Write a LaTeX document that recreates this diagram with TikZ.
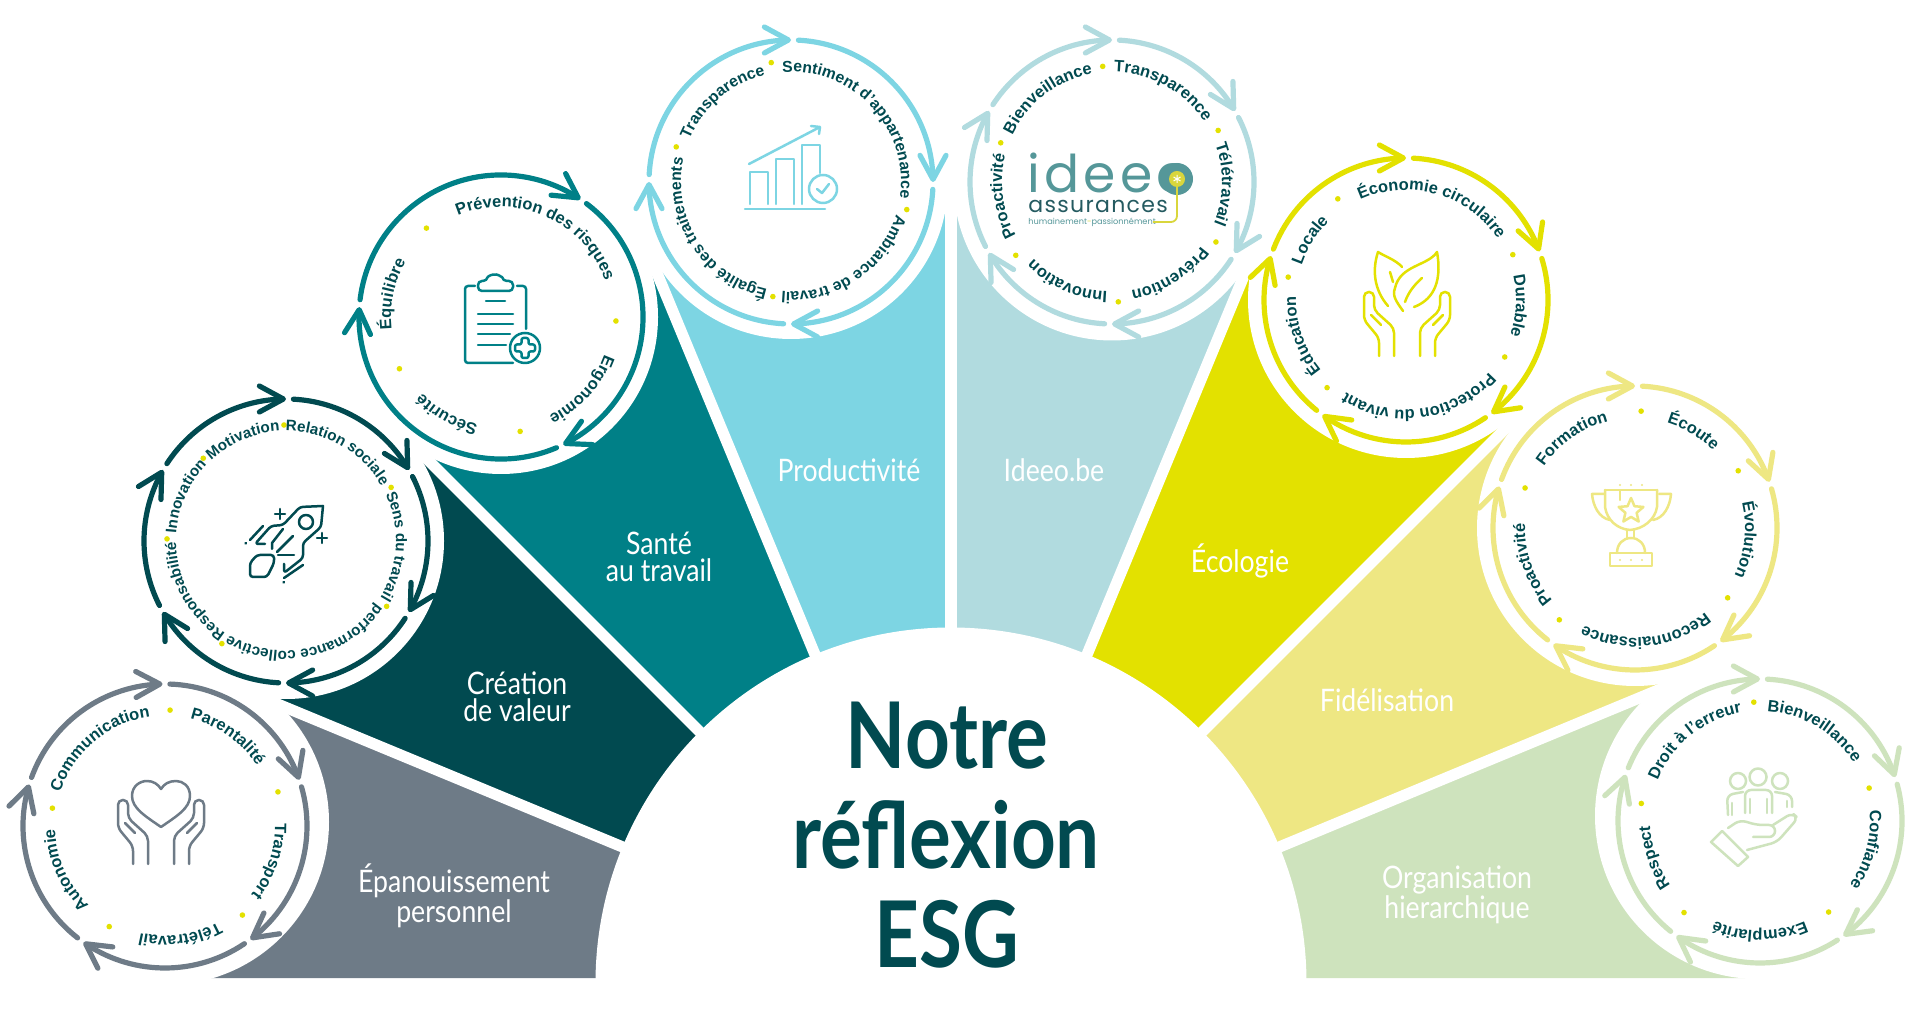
\documentclass[tikz,border=0pt]{standalone}
\usepackage{fontspec}
\setmainfont{Liberation Sans}
\newfontfamily\ringfamily{Liberation Sans}
\newfontfamily\wedgefamily[FakeStretch=.86]{Lato}
\newfontfamily\titlefamily[FakeStretch=.85]{Lato}
\newfontfamily\logofamily{Poppins}
\usetikzlibrary{arrows.meta,bending,decorations.text,shapes.geometric}
\definecolor{inkdark}{HTML}{014A50}
\definecolor{slategrey}{HTML}{6E7B87}
\definecolor{deepteal}{HTML}{014A50}
\definecolor{teal}{HTML}{008087}
\definecolor{skyblue}{HTML}{7DD5E3}
\definecolor{paleblue}{HTML}{B1DBDF}
\definecolor{lemon}{HTML}{E3E100}
\definecolor{paleyellow}{HTML}{EEE783}
\definecolor{palegreen}{HTML}{CEE3BD}
\definecolor{logoteal}{HTML}{559799}
\definecolor{logodark}{HTML}{245A60}
\definecolor{logoyellow}{HTML}{D9D63C}
\tikzset{
  ringarc/.style={
    draw=#1,
    line width=2.6pt,
    line cap=round,
    -{Straight Barb[length=12pt,width=13pt,line width=2.6pt,round,flex=1]}},
  gapline/.style={draw=white,line width=5.6pt},
  iconline/.style={draw=#1,line width=1.25pt,line cap=round,line join=round},
  wedgelabel/.style={text=white,align=center,font=\wedgefamily\fontsize{15.5}{13.6}\selectfont},
  titleline/.style={text=inkdark,anchor=base,font=\titlefamily\bfseries\fontsize{46}{50}\selectfont},
  }
\newcommand{\ringtext}[4][8.2]{\path[decorate,decoration={text along path,text align=center,text={|\ringfamily\bfseries\fontsize{#1}{9}\selectfont\color{inkdark}|#4}}] (#2) ++(#3+85:110) arc[start angle=#3+85,end angle=#3-85,radius=110];}
\newcommand{\ringarrows}[3]{\foreach \tailang/\headang in {#3} {\draw[ringarc=#2] (#1) ++(\tailang:142) arc[start angle=\tailang,end angle=\headang,radius=142];}}
\newcommand{\ringdots}[2]{\foreach \dotang/\dotrad in {#2} {\fill[lemon] (#1) ++(\dotang:\dotrad) circle[radius=2.8];}}
\newcommand{\handside}{
  \draw[rounded corners=2.4pt] (-28,-56) -- (-28,-38) -- (-43,-20) -- (-43,8) -- (-33,8) -- (-33,-10) -- (-13,-28) -- (-13,-56);
  \draw (-36,-15) -- (-26,-25);}
\begin{document}
\begin{tikzpicture}[x=.5pt,y=.5pt]
  \useasboundingbox (0,0) rectangle (1920,1011);
  \coordinate (hub) at (951,28);
  \coordinate (ringA) at (165,185);
  \coordinate (ringB) at (286,470);
  \coordinate (ringC) at (501,694);
  \coordinate (ringD) at (791,829);
  \coordinate (ringE) at (1112,829);
  \coordinate (ringF) at (1406,711);
  \coordinate (ringG) at (1635,483);
  \coordinate (ringH) at (1760,190);

  % Wedges
  \fill[slategrey] (hub) -- (700,33) -- (185,33) -- ([shift={(157.5:745)}]hub) -- cycle;
  \fill[deepteal] (hub) -- ([shift={(157.5:745)}]hub) -- ([shift={(135:750)}]hub) -- cycle;
  \fill[teal] (hub) -- ([shift={(135:750)}]hub) -- ([shift={(112.5:775)}]hub) -- cycle;
  \fill[skyblue] (hub) -- ([shift={(112.5:775)}]hub) -- ([shift={(90:785)}]hub) -- cycle;
  \fill[paleblue] (hub) -- ([shift={(90:785)}]hub) -- ([shift={(67.5:775)}]hub) -- cycle;
  \fill[lemon] (hub) -- ([shift={(67.5:775)}]hub) -- ([shift={(45:785)}]hub) -- cycle;
  \fill[paleyellow] (hub) -- ([shift={(45:785)}]hub) -- ([shift={(22.5:785)}]hub) -- cycle;
  \fill[palegreen] (hub) -- ([shift={(22.5:785)}]hub) -- (1745,33) -- (1200,33) -- cycle;

  % Gaps
  \foreach \gapang in {22.5,45,67.5,90,112.5,135,157.5} {\draw[gapline] (hub) -- ++(\gapang:810);}
  \fill[white] (hub) circle[radius=355.5];
  \fill[white] (166,189) circle[radius=163];
  \fill[white] (ringB) circle[radius=158];
  \fill[white] (ringC) circle[radius=157];
  \fill[white] (ringD) circle[radius=157];
  \fill[white] (ringE) circle[radius=158.5];
  \fill[white] (ringF) circle[radius=158];
  \fill[white] (ringG) circle[radius=158];
  \fill[white] (1758,195) circle[radius=163];

  % Title
  \node[titleline] (titleA) at (947,242) {Notre};
  \node[titleline] (titleB) at (946,142) {réflexion};
  \node[titleline] (titleC) at (947,43) {ESG};

  % Labels
  \node[wedgelabel] (labelA) at (454,115) {Épanouissement\\personnel};
  \node[wedgelabel] (labelB) at (517,314) {Création\\de valeur};
  \node[wedgelabel] (labelC) at (659,454) {Santé\\au travail};
  \node[wedgelabel] (labelD) at (849,541) {Productivité};
  \node[wedgelabel] (labelE) at (1054,541) {Ideeo.be};
  \node[wedgelabel] (labelF) at (1240,450) {Écologie};
  \node[wedgelabel] (labelG) at (1387,311) {Fidélisation};
  \node[wedgelabel] (labelH) at (1457,116) {Organisation\\hierarchique};

  % Arrows
  \ringarrows{ringA}{slategrey}{88/19,16/-53,-56/-125,-128/-197,-200/-269}
  \ringarrows{ringB}{deepteal}{87/30,27/-30,-33/-90,-93/-150,-153/-210,-213/-270}
  \ringarrows{ringC}{teal}{53/-64,-67/-184,-187/-304}
  \ringarrows{ringD}{skyblue}{87/0,-3/-90,-93/-180,-183/-270}
  \ringarrows{ringE}{paleblue}{87/30,27/-30,-33/-90,-93/-150,-153/-210,-213/-270}
  \ringarrows{ringF}{lemon}{87/20,17/-53,-56/-126,-129/-198,-201/-270}
  \ringarrows{ringG}{paleyellow}{87/19,16/-53,-56/-125,-128/-197,-200/-270}
  \ringarrows{ringH}{palegreen}{87/18,15/-54,-57/-126,-129/-199,-202/-270}

  % Dots
  \ringdots{ringA}{87.5/116,16.8/118,-49/118,-119/115,171/114}
  \ringdots{ringB}{91/116,27/118,-33/120,-122/121,179/119,135/117}
  \ringdots{ringC}{130/116,-2/115,-80.5/116,-153/114}
  \ringdots{ringD}{99.4/121,-13.4/119,-99/116,163/120}
  \ringdots{ringE}{94.6/116,25.9/118,-30/120,-87/120,-142.7/121,160.6/118}
  \ringdots{ringF}{124/122,23/116,-30/114,-132/118,169/120}
  \ringdots{ringG}{87/117,29/118,-37/116,-129.5/119,160/117}
  \ringdots{ringH}{93/119,16.8/114,-53/114,-129.7/119,171.6/120}

  % Ring words
  \ringtext{ringA}{55}{Parentalité}
  \ringtext{ringA}{-18.5}{Transport}
  \ringtext{ringA}{-82}{Télétravail}
  \ringtext{ringA}{-156}{Autonomie}
  \ringtext{ringA}{130}{Communication}
  \ringtext[7.6]{ringB}{60}{Relation sociale}
  \ringtext[7.6]{ringB}{-3}{Sens du travail}
  \ringtext[7.6]{ringB}{-78}{performance collective}
  \ringtext[7.6]{ringB}{-151.5}{Responsabilité}
  \ringtext[7.6]{ringB}{156}{Innovation}
  \ringtext[7.6]{ringB}{113}{Motivation}
  \ringtext{ringC}{66}{Prévention des risques}
  \ringtext{ringC}{-42}{Ergonomie}
  \ringtext{ringC}{-119}{Sécurité}
  \ringtext{ringC}{168}{Équilibre}
  \ringtext[7.9]{ringD}{43}{Sentiment d’appartenance}
  \ringtext[7.9]{ringD}{-56}{Ambiance de travail}
  \ringtext[7.9]{ringD}{-147.4}{Égalité des traitements}
  \ringtext[7.9]{ringD}{130.5}{Transparence}
  \ringtext{ringE}{61}{Transparence}
  \ringtext{ringE}{-1}{Télétravail}
  \ringtext{ringE}{-58}{Prévention}
  \ringtext{ringE}{-114}{Innovation}
  \ringtext{ringE}{-172.5}{Proactivité}
  \ringtext{ringE}{127.5}{Bienveillance}
  \ringtext{ringF}{74}{Économie circulaire}
  \ringtext{ringF}{-3}{Durable}
  \ringtext{ringF}{-82}{Protection du vivant}
  \ringtext{ringF}{-161}{Éducation}
  \ringtext{ringF}{148}{Locale}
  \ringtext{ringG}{125}{Formation}
  \ringtext{ringG}{59}{Écoute}
  \ringtext{ringG}{-6}{Évolution}
  \ringtext{ringG}{-84}{Reconnaissance}
  \ringtext{ringG}{-160.5}{Proactivité}
  \ringtext{ringH}{59}{Bienveillance}
  \ringtext{ringH}{-15}{Confiance}
  \ringtext{ringH}{-90}{Exemplarité}
  \ringtext{ringH}{-161}{Respect}
  \ringtext{ringH}{129}{Droit à l’erreur}

  % Heart
  \begin{scope}[shift={(ringA)},iconline=slategrey]
    \begin{scope}[shift={(-4,18)}]
      \handside
      \begin{scope}[xscale=-1]
        \handside
      \end{scope}
    \end{scope}
    \draw (-4,-1) .. controls (-20,10) and (-33,18) .. (-33,30) .. controls (-33,40) and (-25,45) .. (-18,45) .. controls (-12,45) and (-7,42) .. (-4,37) .. controls (-1,42) and (4,45) .. (11,45) .. controls (18,45) and (25,40) .. (25,30) .. controls (25,18) and (12,10) .. (-4,-1);
  \end{scope}

  % Rocket
  \begin{scope}[shift={(ringB)},iconline=deepteal]
    \draw[rounded corners=1.5pt] (37,35) -- (14,34) -- (-3,16) -- (-15,15) -- (-31,-3) -- (-21,-3);
    \draw[rounded corners=1.5pt] (37,35) -- (35,14) -- (17,-2) -- (17,-17) -- (-2,-32) -- (-2,-23);
    \draw (20,19) circle[radius=7];
    \draw (-3,12) -- (-14,-2) -- (-14,-8);
    \draw (-9,-11) -- (7,5);
    \draw (-8,-14) -- (8,-14);
    \draw[rounded corners=1.5pt] (-36,-36) -- (-36,-22) -- (-29,-14) -- (-12,-14) -- (-12,-22) -- (-19,-36) -- cycle;
    \draw (-6,22) -- (-6,32) (-11,27) -- (-1,27);
    \draw (36,-2) -- (36,8) (31,3) -- (41,3);
    \draw (-23,15) -- (-36,1) (-40,-2) -- (-40.5,-2.5);
    \draw (17,-24) -- (-2,-37) (-2,-41) -- (-2.5,-41.5);
  \end{scope}

  % Clipboard
  \begin{scope}[shift={(ringC)},iconline=teal]
    \draw[rounded corners=1.5pt] (-26,31) -- (-36,31) -- (-36,-46) -- (12,-46);
    \draw[rounded corners=1.5pt] (16,31) -- (25,31) -- (25,-12);
    \draw[rounded corners=2pt] (-23,26) -- (-23,36) -- (-14,36) arc[start angle=170,end angle=10,radius=8] -- (12,36) -- (12,26) -- cycle;
    \draw (-15,16) -- (4,16) (-23,3) -- (12,3) (-23,-7) -- (12,-7) (-23,-17) -- (9,-17) (-23,-28) -- (5,-28);
    \draw (24,-31) circle[radius=15];
    \draw[rounded corners=1pt] (20.5,-21) -- (27.5,-21) -- (27.5,-27.5) -- (34,-27.5) -- (34,-34.5) -- (27.5,-34.5) -- (27.5,-41) -- (20.5,-41) -- (20.5,-34.5) -- (14,-34.5) -- (14,-27.5) -- (20.5,-27.5) -- cycle;
  \end{scope}

  % Chart
  \begin{scope}[shift={(ringD)},iconline=skyblue]
    \draw (-42,18) -- (29,55) -- (20,56) (29,55) -- (28,48);
    \draw (-23,-22) -- (-23,10) -- (-41,10) -- (-41,-22);
    \draw (3,-22) -- (3,23) -- (-15,23) -- (-15,-22);
    \draw (11,-22) -- (11,37) -- (29,37) -- (29,9);
    \draw (-46,-27) -- (34,-27);
    \draw (32,-7) circle[radius=14];
    \draw (26,-7) -- (31,-11) -- (38,-2);
  \end{scope}

  % Logo
  \begin{scope}[shift={(ringE)}]
    \node[anchor=base west,inner sep=0pt,text=logoteal,font=\logofamily\fontsize{26}{30}\selectfont\addfontfeature{LetterSpace=8}] (logoword) at (-85,-11) {ideeo};
    \node[anchor=base west,inner sep=0pt,text=logodark,font=\logofamily\fontsize{11}{13}\selectfont\addfontfeature{LetterSpace=6}] (logoname) at (-84,-31) {assurances};
    \node[anchor=base west,inner sep=0pt,text=logoteal,font=\logofamily\fontsize{4.1}{5}\selectfont] (logotag) at (-84,-43) {humainement\textcolor{logoyellow}{-}passionnément};
    \fill[logoteal] (65,3) circle[radius=16];
    \fill[logoyellow] (65,3) circle[radius=8];
    \draw[white,line width=.5pt] (65,-1) -- (65,7) (61.5,1) -- (68.5,5) (61.5,5) -- (68.5,1);
    \draw[logoyellow,line width=.9pt,rounded corners=3pt] (65,-5) -- (65,-40) -- (41,-40);
  \end{scope}

  % Leaves
  \begin{scope}[shift={(ringF)},iconline=lemon]
    \begin{scope}[shift={(1,0)}]
      \handside
      \begin{scope}[xscale=-1]
        \handside
      \end{scope}
    \end{scope}
    \draw (8,-7) .. controls (24,-1) and (37,14) .. (31,48) .. controls (22,34) and (-6,35) .. (-11,12) .. controls (-14,4) and (-10,-1) .. (-3,-11);
    \draw (16,22) .. controls (8,15) and (2,7) .. (-1,-2);
    \draw (-4,33) .. controls (-10,40) and (-22,44) .. (-28,48) .. controls (-34,30) and (-32,10) .. (-18,-6);
    \draw (-16,28) -- (-13,18);
  \end{scope}

  % Trophy
  \begin{scope}[shift={(ringG)},iconline=paleyellow]
    \draw (-30,38) -- (22,38);
    \draw (-30,38) -- (-30,21) .. controls (-28,8) and (-18,-1) .. (-5,-2) .. controls (8,-1) and (20,8) .. (22,21) -- (22,38);
    \draw (-31,34) -- (-43,34) .. controls (-42,22) and (-36,10) .. (-25,8);
    \draw (24,34) -- (36,34) .. controls (35,22) and (29,10) .. (18,8);
    \node[star,star points=5,star point ratio=2.2,draw=paleyellow,line width=1.25pt,minimum size=13pt,inner sep=0pt] (cupstar) at (-4,17) {};
    \draw (-8,-2) -- (-8,-10) (-1,-2) -- (-1,-10);
    \draw (-18,-25) .. controls (-18,-16) and (-12,-10) .. (-4,-10) .. controls (4,-10) and (10,-16) .. (10,-25);
    \draw (-25,-25) rectangle (17,-38);
    \foreach \sparkx in {-15,-4,7} {\fill[paleyellow] (\sparkx,43) circle[radius=1.2]; \fill[paleyellow] (\sparkx,-32) circle[radius=1.2];}
    \draw (-15,37) -- (-15,28);
  \end{scope}

  % Team
  \begin{scope}[shift={(ringH)},iconline=palegreen]
    \draw (-22,40) circle[radius=8] (-2,44) circle[radius=8.5] (20,40) circle[radius=8];
    \draw[rounded corners=3pt] (-15,8) -- (-15,31) -- (12,31) -- (12,8);
    \draw (-10,8) -- (-10,22) (7,8) -- (7,22);
    \draw[rounded corners=3pt] (-32,6) -- (-33,26) -- (-17,29);
    \draw[rounded corners=3pt] (15,29) -- (32,26) -- (32,14);
    \draw (-28,6) -- (-28,18) (27,14) -- (27,20);
    \draw (-38,-10) -- (-12,-36) -- (-22,-45) -- (-49,-21) -- cycle;
    \draw[rounded corners=3pt] (-32,-7) -- (-20,1) -- (-3,-4) -- (15,-4) -- (15,-16) -- (-7,-16);
    \draw[rounded corners=3pt] (13,-4) -- (32,8) -- (38,3) -- (17,-21) -- (-13,-29);
  \end{scope}
\end{tikzpicture}
\end{document}
